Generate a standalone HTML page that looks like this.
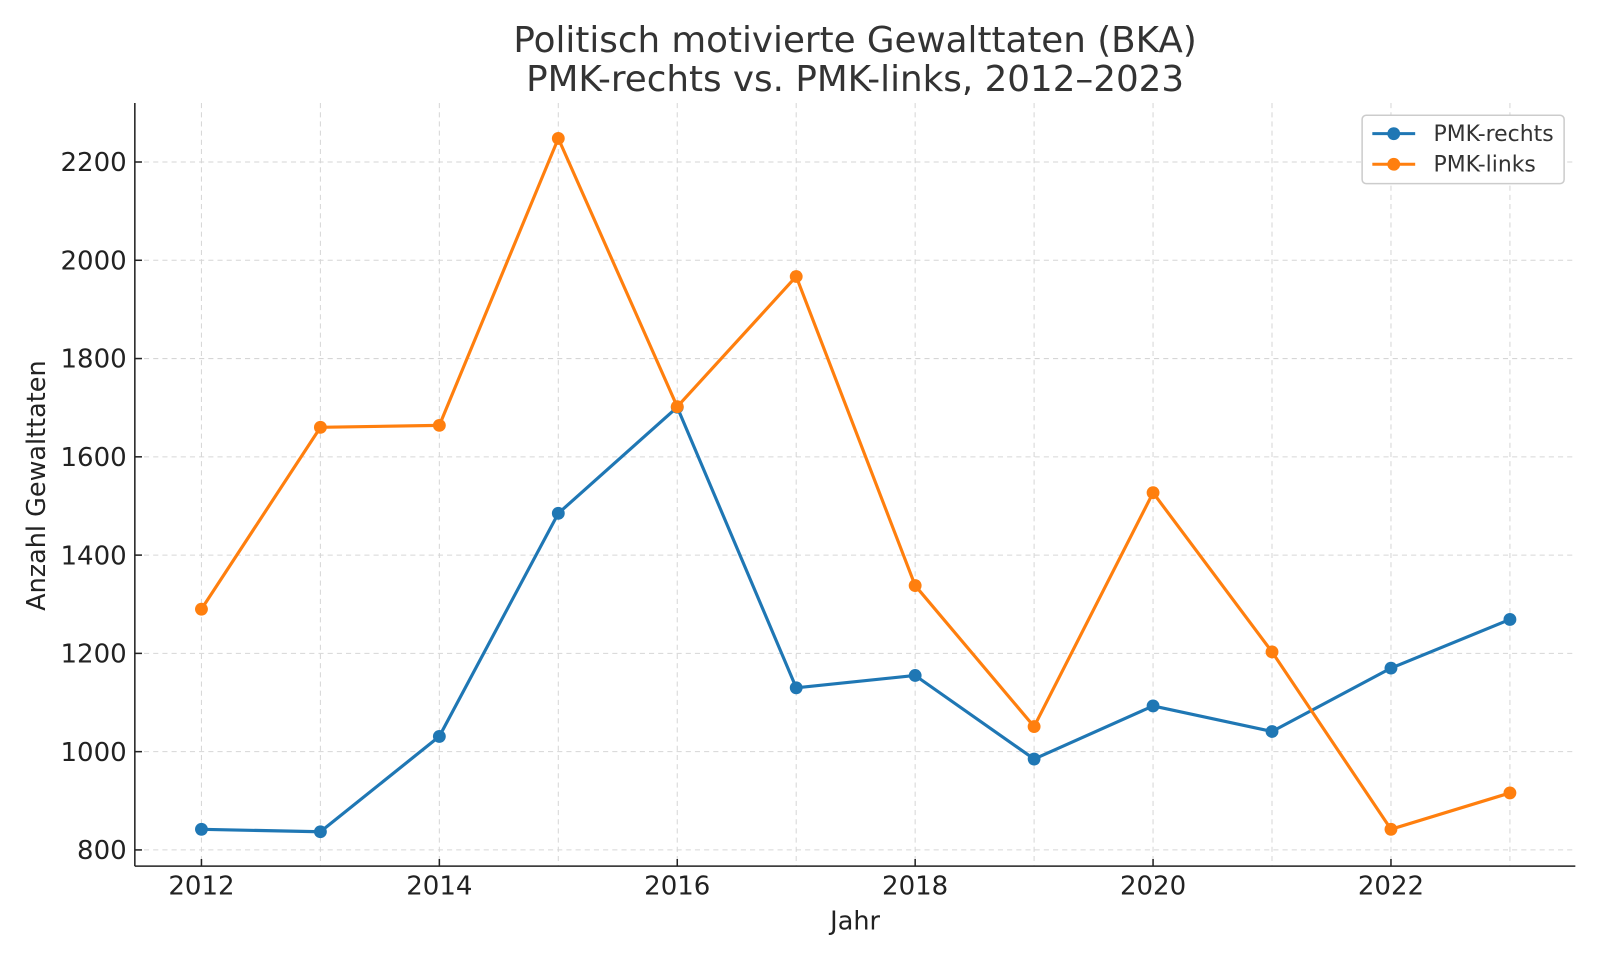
<!DOCTYPE html>
<html><head><meta charset="utf-8"><style>
html,body{margin:0;padding:0;background:#fff;}
svg{display:block;font-family:"DejaVu Sans","Liberation Sans",sans-serif;}
</style></head><body>
<svg id="chart" width="1600" height="960" viewBox="0 0 1568 941" xmlns="http://www.w3.org/2000/svg">
<text x="838" y="51" text-anchor="middle" font-size="35" fill="#333">Politisch motivierte Gewalttaten (BKA)</text>
<text x="838" y="89" text-anchor="middle" font-size="35" fill="#333">PMK-rechts vs. PMK-links, 2012–2023</text>
<g id="grid"></g>
<g id="axes"></g>
<g id="series"></g>
<text x="838" y="911" text-anchor="middle" font-size="25" fill="#222">Jahr</text>
<text transform="translate(44,476) rotate(-90)" text-anchor="middle" font-size="25" fill="#222">Anzahl Gewalttaten</text>
<g>
<rect x="1335" y="113" width="198" height="67" rx="4" fill="#fff" stroke="#ccc" stroke-width="1.5"/>
<g><line x1="1345" y1="131" x2="1387" y2="131" stroke="#1f77b4" stroke-width="3"/><circle cx="1366" cy="131" r="6.3" fill="#1f77b4"/><text x="1405" y="138" font-size="21.5" fill="#333">PMK-rechts</text></g>
<g><line x1="1345" y1="161" x2="1387" y2="161" stroke="#ff7f0e" stroke-width="3"/><circle cx="1366" cy="161" r="6.3" fill="#ff7f0e"/><text x="1405" y="168" font-size="21.5" fill="#333">PMK-links</text></g>
</g>
</svg>
<script>
const years=[2012,2013,2014,2015,2016,2017,2018,2019,2020,2021,2022,2023];
const rechts=[842,837,1031,1485,1701,1130,1155,985,1093,1041,1170,1269];
const links=[1290,1660,1664,2248,1702,1967,1338,1051,1527,1203,842,916];
const xTicks=[2012,2014,2016,2018,2020,2022];
const yTicks=[800,1000,1200,1400,1600,1800,2000,2200];
const L=132,R=1544,T=101,B=849;
const xMin=2011.44,xMax=2023.55,yMin=767,yMax=2320;
const xs=v=>L+(v-xMin)/(xMax-xMin)*(R-L);
const ys=v=>B-(v-yMin)/(yMax-yMin)*(B-T);
const NS="http://www.w3.org/2000/svg";
function mk(p,tag,a){const e=document.createElementNS(NS,tag);for(const k in a)e.setAttribute(k,a[k]);p.appendChild(e);return e;}
const grid=document.getElementById('grid'),axes=document.getElementById('axes'),ser=document.getElementById('series');
years.forEach(y=>{const l=mk(grid,'line',{x1:xs(y),x2:xs(y),y1:T,y2:B,stroke:'#d6d6d6','stroke-dasharray':'5,4','stroke-width':1});

});
yTicks.forEach(v=>{const l=mk(grid,'line',{x1:L,x2:R,y1:ys(v),y2:ys(v),stroke:'#d6d6d6','stroke-dasharray':'5,4','stroke-width':1});


mk(axes,'line',{x1:L,x2:L+7,y1:ys(v),y2:ys(v),stroke:'#222','stroke-width':1.5});
const t=mk(axes,'text',{x:L-8,y:ys(v)+9,'text-anchor':'end','font-size':25.5,fill:'#222'});t.textContent=v;

});
xTicks.forEach(v=>{mk(axes,'line',{x1:xs(v),x2:xs(v),y1:B-7,y2:B,stroke:'#222','stroke-width':1.5});
const t=mk(axes,'text',{x:xs(v),y:B+28,'text-anchor':'middle','font-size':25.5,fill:'#222'});t.textContent=v;

});
mk(axes,'line',{x1:L,x2:L,y1:T,y2:B,stroke:'#222','stroke-width':1.5});
mk(axes,'line',{x1:L,x2:R,y1:B,y2:B,stroke:'#222','stroke-width':1.5});
function draw(vals,color,name){
const pl=mk(ser,'polyline',{points:years.map((y,i)=>xs(y)+','+ys(vals[i])).join(' '),fill:'none',stroke:color,'stroke-width':3.1,'stroke-linejoin':'round'});


years.forEach((y,i)=>{const c=mk(ser,'circle',{cx:xs(y),cy:ys(vals[i]),r:6.3,fill:color});

});}
draw(rechts,'#1f77b4','pmk-rechts');
draw(links,'#ff7f0e','pmk-links');
</script>
</body></html>
